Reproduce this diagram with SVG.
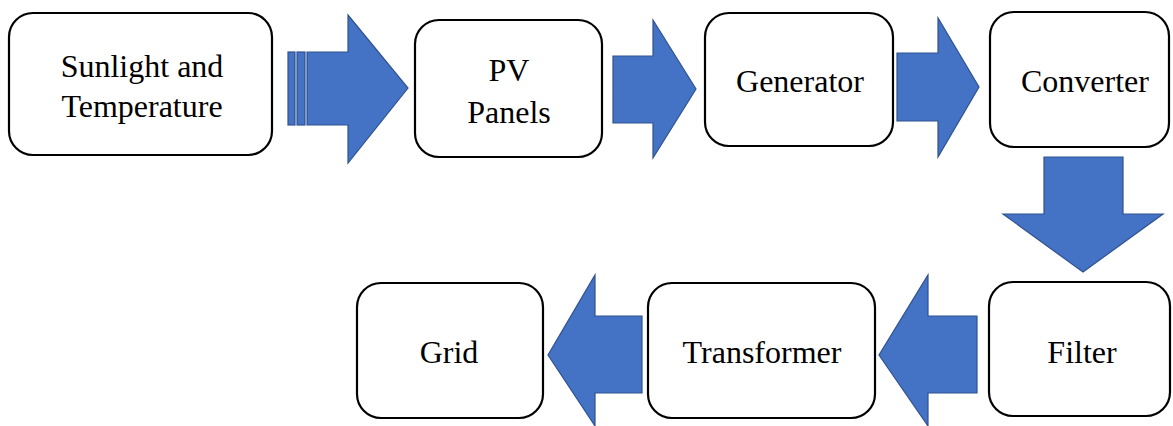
<svg xmlns="http://www.w3.org/2000/svg" width="1173" height="426" viewBox="0 0 1173 426">
<style>
.box{fill:#fff;stroke:#000;stroke-width:2.2}
.arr{fill:#4472C4;stroke:#2F528F;stroke-width:1.2}
.t{font-family:"Liberation Serif","Times New Roman",serif;font-size:32px;fill:#000;text-anchor:middle}
</style>
<rect width="1173" height="426" fill="#fff"/>
<g id="connectors">
<rect class="arr" x="288" y="52" width="7" height="73"/>
<rect class="arr" x="297" y="52" width="8" height="73"/>
<polygon class="arr" points="307,52 348,52 348,15 408,88 348,163 348,125 307,125"/>
<polygon class="arr" points="613,56 653,56 653,20 696,89 653,158 653,123 613,123"/>
<polygon class="arr" points="897,53 938,53 938,18 979,87 938,157 938,121 897,121"/>
<polygon class="arr" points="1044,157 1123,157 1123,214 1163,214 1083,272 1003,214 1044,214"/>
<polygon class="arr" points="977,316 928,316 928,275 879,355 928,426 928,393 977,393"/>
<polygon class="arr" points="642,316 595,316 595,275 548,355 595,426 595,393 642,393"/>
</g>
<g id="sunlight">
<rect class="box" x="9" y="13" width="263" height="142" rx="24"/>
<text class="t" x="142" y="77">Sunlight and</text>
<text class="t" x="142" y="117">Temperature</text>
</g>
<g id="pv">
<rect class="box" x="415" y="20" width="187" height="137" rx="24"/>
<text class="t" x="509" y="81">PV</text>
<text class="t" x="509" y="123">Panels</text>
</g>
<g id="generator">
<rect class="box" x="705" y="13" width="188" height="133" rx="24"/>
<text class="t" x="800" y="92">Generator</text>
</g>
<g id="converter">
<rect class="box" x="990" y="12" width="179" height="135" rx="24"/>
<text class="t" x="1085" y="92">Converter</text>
</g>
<g id="filter">
<rect class="box" x="989" y="282" width="181" height="134" rx="24"/>
<text class="t" x="1082" y="363">Filter</text>
</g>
<g id="transformer">
<rect class="box" x="648" y="283" width="227" height="135" rx="24"/>
<text class="t" x="762" y="363">Transformer</text>
</g>
<g id="grid">
<rect class="box" x="357" y="283" width="186" height="135" rx="24"/>
<text class="t" x="449" y="363">Grid</text>
</g>
</svg>
